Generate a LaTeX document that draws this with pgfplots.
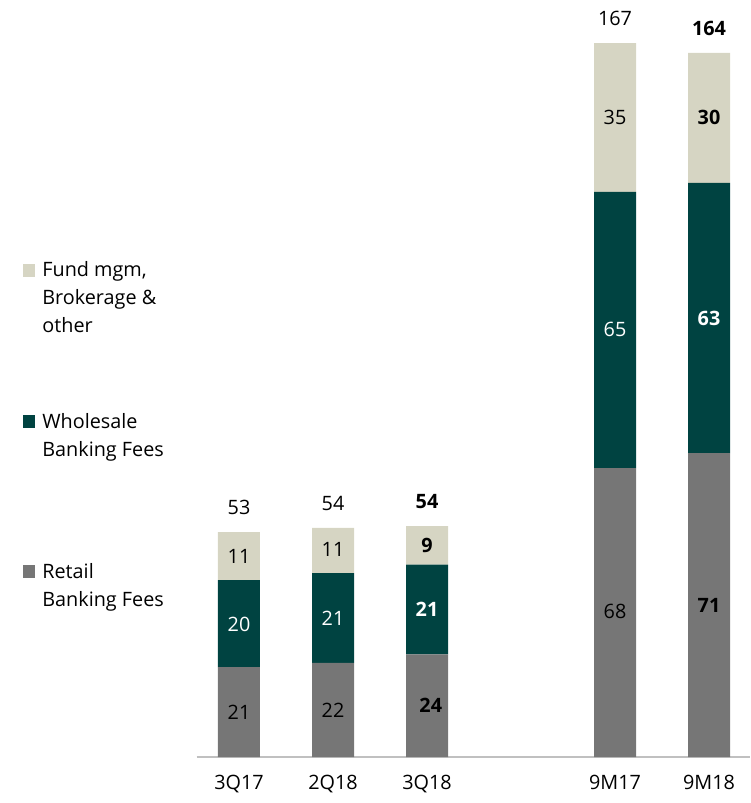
\documentclass[border=0pt]{standalone}
\usepackage{fontspec}
\setmainfont{Open Sans}
\usepackage{pgfplots}
\pgfplotsset{compat=1.18}
\definecolor{fund}{HTML}{D6D5C3}
\definecolor{whole}{HTML}{004341}
\definecolor{retail}{HTML}{767676}
\definecolor{axgray}{HTML}{C0C0C0}
\begin{document}
\fontsize{9.9}{11}\selectfont
\begin{tikzpicture}
\useasboundingbox (-119.5pt,-23pt) rectangle (255.5pt,378.5pt);
\begin{axis}[at={(0pt,0pt)}, anchor=origin,
  x=47pt, y=2.1375pt, xmin=-0.45, xmax=5.44, ymin=0, ymax=177,
  ybar stacked, bar width=21pt, clip=false,
  axis x line=bottom, axis y line=none,
  axis line style={-, draw=axgray, line width=0.8pt},
  xtick={0,1,2,4,5}, xticklabels={3Q17,2Q18,3Q18,9M17,9M18},
  major tick length=0pt,
  xticklabel style={anchor=base, yshift=-16.3pt, font=\fontsize{9.9}{11}\selectfont},
]
\addplot[fill=retail, draw=none] coordinates {(0,21.05) (1,22) (2,24) (4,67.6) (5,71.1)};
\addplot[fill=whole, draw=none] coordinates {(0,20.35) (1,21) (2,21) (4,64.6) (5,63.2)};
\addplot[fill=fund, draw=none] coordinates {(0,11.2) (1,10.6) (2,9) (4,34.8) (5,30.4)};
% label anchor coordinates
\coordinate (r0) at (axis cs:0,10.5);
\coordinate (r1) at (axis cs:1,11);
\coordinate (r2) at (axis cs:2.04,12);
\coordinate (r4) at (axis cs:4,34);
\coordinate (r5) at (axis cs:5,35.5);
\coordinate (w0) at (axis cs:0,31);
\coordinate (w1) at (axis cs:1,32.5);
\coordinate (w2) at (axis cs:2,34.5);
\coordinate (w4) at (axis cs:4,100);
\coordinate (w5) at (axis cs:5,102.5);
\coordinate (f0) at (axis cs:0,46.9);
\coordinate (f1) at (axis cs:1,48.5);
\coordinate (f2) at (axis cs:2,49.5);
\coordinate (f4) at (axis cs:4,149.6);
\coordinate (f5) at (axis cs:5,149.5);
\coordinate (t0) at (axis cs:0,52.6);
\coordinate (t1) at (axis cs:1,53.6);
\coordinate (t2) at (axis cs:2,54);
\coordinate (t4) at (axis cs:4,167);
\coordinate (t5) at (axis cs:5,164.7);
\end{axis}
\node at (r0) {21};
\node at (r1) {22};
\node at (r2) {\bfseries 24};
\node at (r4) {68};
\node at (r5) {\bfseries 71};
\node[white] at (w0) {20};
\node[white] at (w1) {21};
\node[white] at (w2) {\bfseries 21};
\node[white] at (w4) {65};
\node[white] at (w5) {\bfseries 63};
\node at (f0) {11};
\node at (f1) {11};
\node at (f2) {\bfseries 9};
\node at (f4) {35};
\node at (f5) {\bfseries 30};
\node[anchor=base, yshift=8.75pt] at (t0) {53};
\node[anchor=base, yshift=8.75pt] at (t1) {54};
\node[anchor=base, yshift=8.75pt] at (t2) {\bfseries 54};
\node[anchor=base, yshift=8.75pt] at (t4) {167};
\node[anchor=base, yshift=8.75pt] at (t5) {\bfseries 164};
% legend
\fill[fund] (-108pt,240pt) rectangle (-102pt,246.5pt);
\fill[whole] (-108pt,164.25pt) rectangle (-102pt,170.75pt);
\fill[retail] (-108pt,89.25pt) rectangle (-102pt,95.75pt);
\node[anchor=base west, inner sep=0pt] at (-98.5pt,240.2pt) {Fund mgm,};
\node[anchor=base west, inner sep=0pt] at (-98.5pt,226.2pt) {Brokerage \&};
\node[anchor=base west, inner sep=0pt] at (-98.5pt,212.2pt) {other};
\node[anchor=base west, inner sep=0pt] at (-98.5pt,164.2pt) {Wholesale};
\node[anchor=base west, inner sep=0pt] at (-98.5pt,150.2pt) {Banking Fees};
\node[anchor=base west, inner sep=0pt] at (-98.5pt,89.2pt) {Retail};
\node[anchor=base west, inner sep=0pt] at (-98.5pt,75.2pt) {Banking Fees};
\end{tikzpicture}
\end{document}
